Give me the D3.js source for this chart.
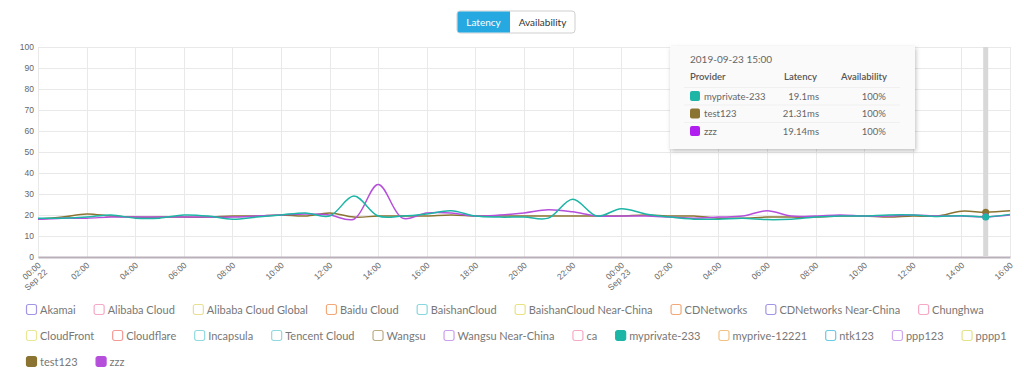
<!DOCTYPE html>
<html>
<head>
<meta charset="utf-8">
<style>
body { margin: 0; background: #fff; font-family: Lato, "Open Sans", sans-serif; }
.grid line { stroke: #e9e9e9; stroke-width: 1; }
.tick text { fill: #666; font-size: 8.5px; }
.legend text { fill: #777; font-size: 11px; }
</style>
</head>
<body>
<script src="https://cdn.jsdelivr.net/npm/d3@7"></script>
<script>

// hourly samples, 2019-09-22 00:00 .. 2019-09-23 16:00
var hours = d3.range(0, 41);
var myprivate233 = [18.5, 18.5, 19, 20, 18.5, 18.5, 20, 19.5, 18, 19, 20, 21, 19.5, 29, 19.5, 19.5, 20.5, 22, 19.5, 19, 19,
  18.5, 27.5, 19.5, 23, 20.5, 19, 18, 18, 18.5, 17.8, 18, 19, 19.5, 19.5, 20, 20, 19.3, 19.7, 19.1, 20.3];
var test123 = [18, 19, 20.5, 19.5, 19, 19, 19, 19, 19.5, 19.5, 20, 19.5, 21, 19, 19.5, 19.5, 19.5, 20, 19.5, 19.5, 19.5,
  19.5, 19.5, 19.5, 19.5, 20, 19.5, 19.5, 18.5, 18.5, 19, 19, 19, 19.5, 19.5, 19, 19.5, 19.5, 21.8, 21.31, 22];
var zzz = [18, 18.5, 18.5, 19, 19, 19, 19, 19, 19, 19.5, 20, 20.5, 20, 18, 34.5, 18.5, 21, 21, 19.5, 20, 21,
  22.5, 21.5, 19.5, 19.5, 19.5, 19, 18.5, 19, 19.5, 22, 19.5, 19.5, 20, 19.5, 19.5, 20, 19.5, 19.5, 19.14, 20];

var seriesNames = ["test123", "zzz", "myprivate-233"];
var seriesColors = ["#8b7432", "#b54fdb", "#1cb5a6"];
var seriesData = [test123, zzz, myprivate233];

var yTicks = [0, 10, 20, 30, 40, 50, 60, 70, 80, 90, 100];
var xTickHours = d3.range(0, 41, 2);

var legendNames = ["Akamai", "Alibaba Cloud", "Alibaba Cloud Global", "Baidu Cloud", "BaishanCloud",
  "BaishanCloud Near-China", "CDNetworks", "CDNetworks Near-China", "Chunghwa", "CloudFront", "Cloudflare",
  "Incapsula", "Tencent Cloud", "Wangsu", "Wangsu Near-China", "ca", "myprivate-233", "myprive-12221",
  "ntk123", "ppp123", "pppp1", "test123", "zzz"];
var legendColors = ["#a395e6", "#f6a9c6", "#e9df93", "#f2a877", "#86d8de", "#e8e27e", "#f2a877", "#a395e6",
  "#f6a9c6", "#eae794", "#f39a96", "#90dadf", "#90dadf", "#bcac85", "#cc9eec", "#f6a9c6", "#1cb5a6",
  "#f2c285", "#6acbe2", "#cea8ec", "#e3e286", "#8b7432", "#b54fdb"];
var legendActive = ["myprivate-233", "test123", "zzz"];

var tipTime = "2019-09-23 15:00";
var tipHour = 39;
var tipRows = [
  {name: "myprivate-233", color: "#1cb5a6", latency: "19.1ms", avail: "100%"},
  {name: "test123", color: "#8b7432", latency: "21.31ms", avail: "100%"},
  {name: "zzz", color: "#b01ff0", latency: "19.14ms", avail: "100%"}
];

var width = 1024, height = 379;
var x0 = 38, x1 = 1010, yTop = 47, yBot = 257;

var svg = d3.select("body").append("svg")
    .attr("width", width)
    .attr("height", height);

// toggle buttons
var btn = svg.append("g");
btn.append("rect").attr("x", 457).attr("y", 11).attr("width", 118).attr("height", 22)
    .attr("rx", 3).attr("fill", "#fff").attr("stroke", "#cfcfcf");
btn.append("path").attr("d", "M460,11.5 H510 V32.5 H460 Q457.5,32.5 457.5,30 V14 Q457.5,11.5 460,11.5 Z")
    .attr("fill", "#26a9e0");
btn.append("text").attr("x", 483.5).attr("y", 25.5).attr("text-anchor", "middle")
    .attr("fill", "#fff").style("font-size", "10px").text("Latency");
btn.append("text").attr("x", 542.5).attr("y", 25.5).attr("text-anchor", "middle")
    .attr("fill", "#333").style("font-size", "10px").text("Availability");

var x = d3.scaleLinear().domain([0, 40]).range([x0, x1]);
var y = d3.scaleLinear().domain([0, 100]).range([yBot, yTop]);

// grid
var grid = svg.append("g").attr("class", "grid");
grid.selectAll("line.h").data(yTicks).enter().append("line")
    .attr("x1", x0).attr("x2", x1)
    .attr("y1", function(d) { return y(d) + 0.5; })
    .attr("y2", function(d) { return y(d) + 0.5; });
grid.selectAll("line.v").data(xTickHours).enter().append("line")
    .attr("x1", function(d) { return Math.round(x(d)) + 0.5; })
    .attr("x2", function(d) { return Math.round(x(d)) + 0.5; })
    .attr("y1", yTop).attr("y2", yBot);

// y axis
var yAxis = svg.append("g")
    .attr("transform", "translate(" + (x0 - 4) + ",0)")
    .call(d3.axisLeft(y).tickValues(yTicks).tickSize(0).tickPadding(0));
yAxis.select(".domain").remove();

// x axis
var xAxis = svg.append("g")
    .attr("transform", "translate(0," + yBot + ")")
    .call(d3.axisBottom(x).tickValues(xTickHours).tickSize(0).tickFormat(""));
xAxis.select(".domain").attr("stroke", "#b9b0b9").attr("stroke-width", 2);

xAxis.selectAll(".tick").each(function(h) {
  var t = d3.select(this).append("text")
      .attr("text-anchor", "end")
      .attr("transform", "translate(3,9) rotate(-42)")
      .attr("fill", "#666");
  var hh = h % 24;
  t.append("tspan").attr("x", 0).attr("dy", 0).text(d3.format("02")(hh) + ":00");
  if (hh === 0) {
    t.append("tspan").attr("x", 0).attr("dy", "1.1em").text(h === 0 ? "Sep 22" : "Sep 23");
  }
});

// hover line
svg.append("line")
    .attr("x1", x(tipHour)).attr("x2", x(tipHour))
    .attr("y1", yTop).attr("y2", yBot)
    .attr("stroke", "#d8d8d8").attr("stroke-width", 5);

// series lines
var line = d3.line()
    .x(function(d, i) { return x(hours[i]); })
    .y(function(d) { return y(d); })
    .curve(d3.curveCatmullRom.alpha(0.5));

svg.append("g").selectAll("path")
    .data(seriesData)
    .enter().append("path")
    .attr("d", line)
    .attr("fill", "none")
    .attr("stroke-width", 1.5)
    .attr("stroke", function(d, i) { return seriesColors[i]; });

svg.append("g").selectAll("circle")
    .data(seriesData)
    .enter().append("circle")
    .attr("cx", x(tipHour))
    .attr("cy", function(d) { return y(d[tipHour]); })
    .attr("r", 3.5)
    .attr("fill", function(d, i) { return seriesColors[i]; });

// tooltip
var tip = svg.append("g").attr("transform", "translate(670,46)");
var defs = svg.append("defs");
var f = defs.append("filter").attr("id", "shadow").attr("x", "-10%").attr("y", "-10%")
    .attr("width", "130%").attr("height", "140%");
f.append("feDropShadow").attr("dx", 1).attr("dy", 2).attr("stdDeviation", 2)
    .attr("flood-color", "#000").attr("flood-opacity", 0.25);
tip.append("rect").attr("width", 245).attr("height", 103)
    .attr("fill", "#fafafa").attr("filter", "url(#shadow)");
tip.append("text").attr("x", 20).attr("y", 17).attr("fill", "#666")
    .style("font-size", "10px").text(tipTime);
var head = tip.append("g").style("font-size", "9.5px").attr("fill", "#555").style("font-weight", "600");
head.append("text").attr("x", 20).attr("y", 34).text("Provider");
head.append("text").attr("x", 147).attr("y", 34).attr("text-anchor", "end").text("Latency");
head.append("text").attr("x", 217).attr("y", 34).attr("text-anchor", "end").text("Availability");

var rows = tip.selectAll("g.row").data(tipRows).enter().append("g")
    .attr("transform", function(d, i) { return "translate(0," + (41 + i * 17.5) + ")"; })
    .style("font-size", "9.5px").attr("fill", "#666");
rows.append("line").attr("x1", 14).attr("x2", 230).attr("y1", 0.5).attr("y2", 0.5)
    .attr("stroke", "#f0f0f0");
rows.append("rect").attr("x", 20).attr("y", 4).attr("width", 10).attr("height", 10).attr("rx", 2)
    .attr("fill", function(d) { return d.color; });
rows.append("text").attr("x", 34).attr("y", 12.5).text(function(d) { return d.name; });
rows.append("text").attr("x", 149).attr("y", 12.5).attr("text-anchor", "end").text(function(d) { return d.latency; });
rows.append("text").attr("x", 216).attr("y", 12.5).attr("text-anchor", "end").text(function(d) { return d.avail; });

// legend, flowing into rows
var legend = svg.append("g").attr("class", "legend");
var lx = 26, ly = 310, maxX = 1012;
legendNames.forEach(function(name, i) {
  var g = legend.append("g");
  var active = legendActive.indexOf(name) >= 0;
  g.append("rect").attr("x", 0.5).attr("y", -5.5).attr("width", 10).attr("height", 10).attr("rx", 2)
      .attr("fill", active ? legendColors[i] : "#fff")
      .attr("stroke", legendColors[i]).attr("stroke-width", 1.2);
  var t = g.append("text").attr("x", 14).attr("y", 4).text(name);
  var w = 14 + t.node().getComputedTextLength();
  if (lx + w > maxX) { lx = 26; ly += 26; }
  g.attr("transform", "translate(" + lx + "," + ly + ")");
  lx += w + 18;
});

</script>
</body>
</html>
